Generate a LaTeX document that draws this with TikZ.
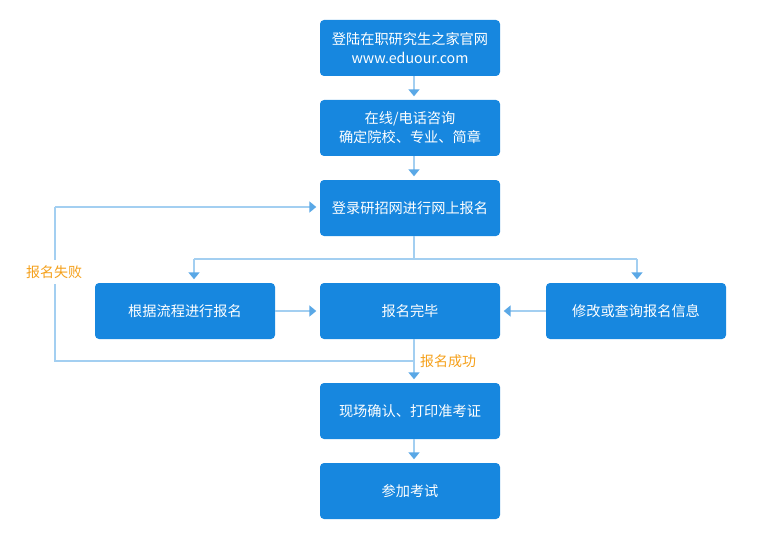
\documentclass[tikz,border=0pt]{standalone}
\usepackage{fontspec}
\setmainfont{Noto Sans CJK SC}
\usetikzlibrary{arrows.meta}
\definecolor{boxblue}{HTML}{1787DF}
\definecolor{linecol}{HTML}{A3CFF1}
\definecolor{tipcol}{HTML}{5AA8E6}
\definecolor{orangetxt}{HTML}{F5A01A}
\begin{document}
\begin{tikzpicture}[x=1pt,y=-1pt,
  stepbox/.style={draw=none,fill=boxblue,rounded corners=4pt,minimum width=180pt,minimum height=56pt,
    text=white,font=\fontsize{14.2}{19}\selectfont,align=center,inner sep=0pt},
  conn/.style={draw=linecol,line width=1.6pt,-{Triangle[width=11pt,length=7pt,color=tipcol]},shorten >=3.5pt},
  plain/.style={draw=linecol,line width=1.6pt},
  lbl/.style={text=orangetxt,font=\fontsize{14}{16}\selectfont,inner sep=1pt}]
\useasboundingbox (0,0) rectangle (767,540);
\node[stepbox] (b1) at (410,48) {登陆在职研究生之家官网\\www.eduour.com};
\node[stepbox] (b2) at (410,128) {在线/电话咨询\\确定院校、专业、简章};
\node[stepbox] (b3) at (410,208) {登录研招网进行网上报名};
\node[stepbox] (bl) at (185,311) {根据流程进行报名};
\node[stepbox] (bm) at (410,311) {报名完毕};
\node[stepbox] (br) at (636,311) {修改或查询报名信息};
\node[stepbox] (b5) at (410,411) {现场确认、打印准考证};
\node[stepbox] (b6) at (410,491) {参加考试};
% vertical main connectors
\draw[conn] ([xshift=4pt]b1.south) -- ([xshift=4pt]b2.north);
\draw[conn] ([xshift=4pt]b2.south) -- ([xshift=4pt]b3.north);
\coordinate (j1) at (414,259);
\coordinate (jl) at (194,259);
\coordinate (jr) at (637,259);
\draw[plain] ([xshift=4pt]b3.south) -- (j1);
\draw[plain] (jl) -- (jr);
\draw[conn] (jl) -- (jl |- bl.north);
\draw[conn] (jr) -- (jr |- br.north);
\draw[conn] (bl.east) -- (bm.west);
\draw[conn] (br.west) -- (bm.east);
\coordinate (jb) at (414,361);
\coordinate (fl) at (55,361);
\coordinate (ft) at (55,207);
\draw[conn] ([xshift=4pt]bm.south) -- ([xshift=4pt]b5.north);
\draw[plain] (jb) -- (fl) -- (ft);
\draw[conn] (ft) -- (b3.west |- ft);
\draw[conn] ([xshift=4pt]b5.south) -- ([xshift=4pt]b6.north);
\node[lbl,fill=white,inner ysep=6pt] (fail) at (54,272) {报名失败};
\node[lbl,anchor=west] (succ) at (419,361) {报名成功};
\end{tikzpicture}
\end{document}
